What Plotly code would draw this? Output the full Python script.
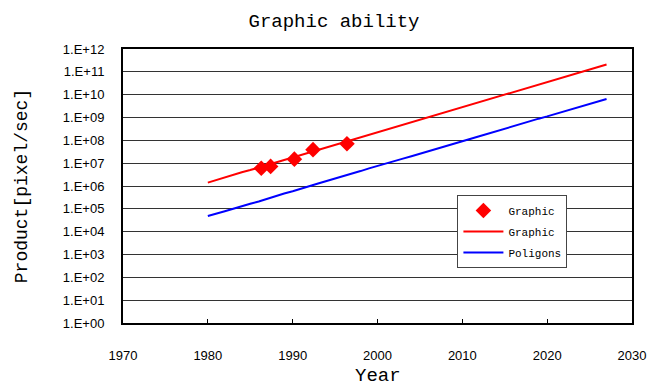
import plotly.graph_objects as go

years = list(range(1980, 2028))

graphic_line = [1.41e6, 1.86e6, 2.34e6, 3.0e6, 4.0e6, 5.0e6, 6.3e6, 8.5e6, 1.07e7, 1.38e7,
                1.78e7, 2.34e7, 2.95e7, 3.8e7, 4.9e7, 6.5e7, 8.1e7, 1.05e8, 1.35e8, 1.78e8,
                2.24e8, 2.9e8, 3.7e8, 4.9e8, 6.2e8, 7.9e8, 1.02e9, 1.35e9, 1.7e9, 2.2e9,
                2.8e9, 3.7e9, 4.7e9, 6.0e9, 7.8e9, 1.02e10, 1.29e10, 1.66e10, 2.14e10, 2.8e10,
                3.5e10, 4.6e10, 5.9e10, 7.8e10, 9.8e10, 1.26e11, 1.62e11, 2.1e11]

polygons_line = [4.9e4, 6.0e4, 7.8e4, 1.0e5, 1.32e5, 1.66e5, 2.1e5, 2.8e5, 3.6e5, 4.7e5,
                 5.9e5, 7.8e5, 1.0e6, 1.29e6, 1.66e6, 2.1e6, 2.7e6, 3.5e6, 4.5e6, 5.9e6,
                 7.4e6, 9.5e6, 1.23e7, 1.58e7, 2.0e7, 2.6e7, 3.4e7, 4.4e7, 5.5e7, 7.2e7,
                 9.1e7, 1.17e8, 1.5e8, 1.95e8, 2.5e8, 3.2e8, 4.2e8, 5.4e8, 6.8e8, 8.9e8,
                 1.12e9, 1.45e9, 1.86e9, 2.4e9, 3.1e9, 4.0e9, 5.0e9, 6.5e9]

point_years = [1986.3, 1987.4, 1990.2, 1992.4, 1996.4]
point_values = [6.0e6, 7.2e6, 1.5e7, 3.9e7, 7.1e7]

ytick_exps = list(range(0, 13))
ytick_vals = [10 ** e for e in ytick_exps]
ytick_text = ["1.E+%02d" % e for e in ytick_exps]
xtick_vals = [1970, 1980, 1990, 2000, 2010, 2020, 2030]

mono = "Liberation Mono"

fig = go.Figure()
fig.add_trace(go.Scatter(
    x=point_years, y=point_values, mode="markers", name="Graphic",
    marker=dict(symbol="diamond", color="#FF0000", size=12),
    legendgroup="a"))
fig.add_trace(go.Scatter(
    x=years, y=graphic_line, mode="lines", name="Graphic",
    line=dict(color="#FF0000", width=2), legendgroup="b"))
fig.add_trace(go.Scatter(
    x=years, y=polygons_line, mode="lines", name="Poligons",
    line=dict(color="#0000FF", width=2), legendgroup="c"))

fig.update_layout(
    width=652, height=378,
    margin=dict(l=115, r=28, t=41, b=63, autoexpand=False),
    paper_bgcolor="white", plot_bgcolor="white",
    title=dict(text="Graphic ability", x=0.5, xanchor="center", y=0.968, yanchor="middle",
               font=dict(family=mono, size=19, color="black")),
    xaxis=dict(range=[1970, 2030], tickvals=xtick_vals, ticks="inside", ticklen=4,
               tickcolor="black", showgrid=False, showline=True, linecolor="black",
               linewidth=2, mirror=True, zeroline=False, automargin=False,
               tickfont=dict(family="Liberation Sans", size=13, color="black"),
               ticklabelstandoff=19),
    yaxis=dict(type="log", range=[0, 12], tickvals=ytick_vals, ticktext=ytick_text,
               ticks="", showgrid=True, gridcolor="#333333", gridwidth=1,
               showline=True, linecolor="black", linewidth=2, mirror=True,
               zeroline=False, automargin=False,
               tickfont=dict(family="Liberation Sans", size=13, color="black"),
               ticklabelstandoff=14),
    legend=dict(x=0.657, y=0.467, xanchor="left", yanchor="top",
                bgcolor="white", bordercolor="#444444", borderwidth=1,
                font=dict(family=mono, size=11, color="black"),
                itemwidth=40, tracegroupgap=2, traceorder="grouped"),
    showlegend=True,
    annotations=[
        dict(text="Year", xref="paper", yref="paper", x=0.5, y=-0.195,
             xanchor="center", yanchor="middle", showarrow=False,
             font=dict(family=mono, size=19, color="black")),
        dict(text="Product[pixel/sec]", xref="paper", yref="paper", x=-0.198, y=0.5,
             xanchor="center", yanchor="middle", showarrow=False, textangle=-90,
             font=dict(family=mono, size=18, color="black")),
    ],
)

fig.write_html("out.html")
